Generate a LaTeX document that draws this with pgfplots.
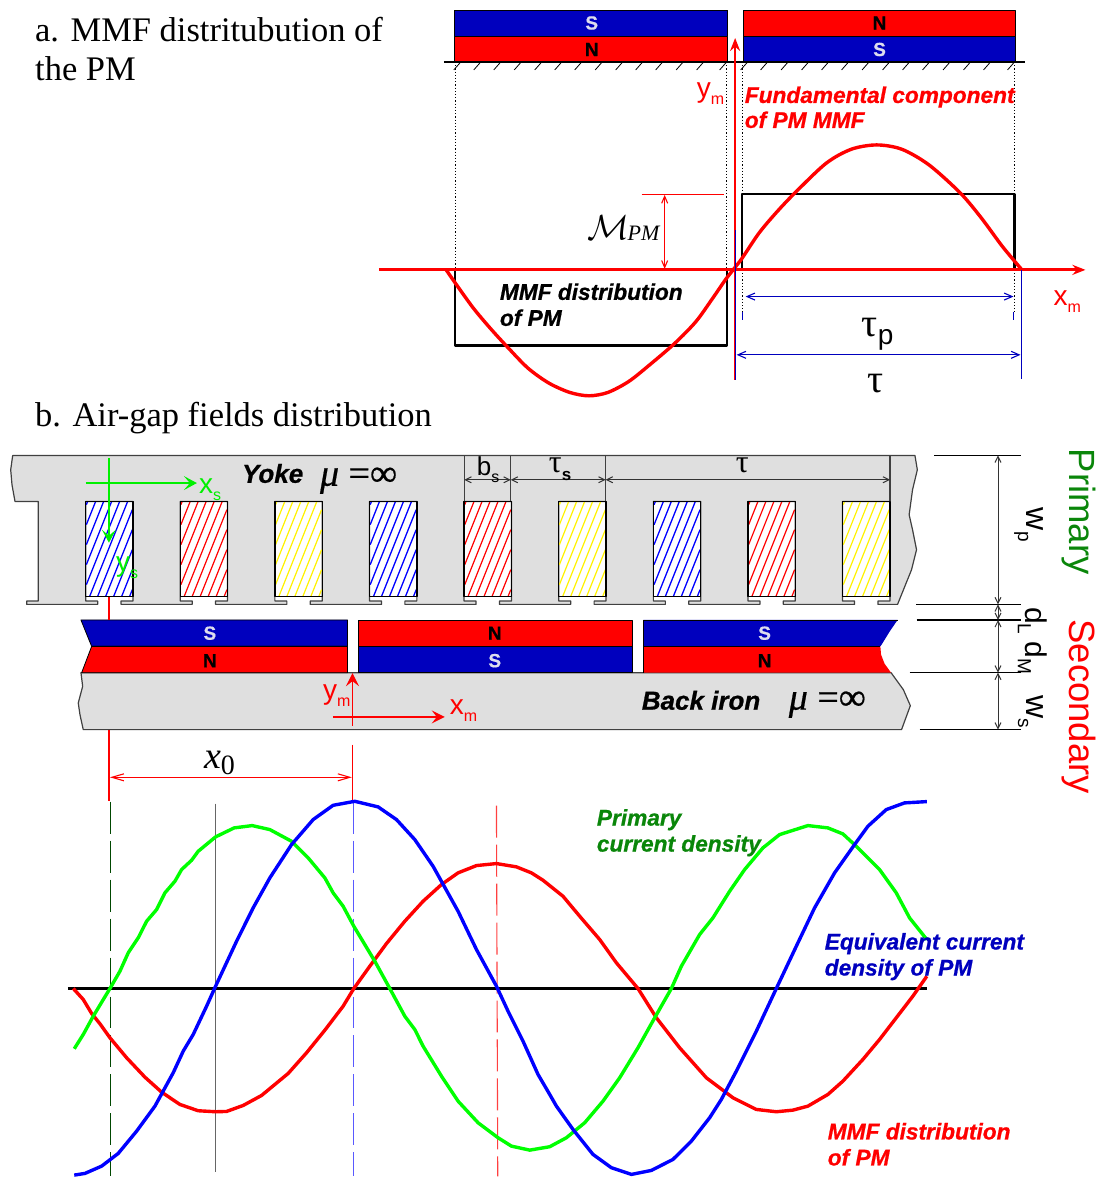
\documentclass[border=0pt]{standalone}
\usepackage{fontspec}
\usepackage{pgfplots}
\usepackage{pgfplotstable}
\pgfplotsset{compat=1.18}
\usetikzlibrary{arrows.meta}
\setmainfont{Liberation Serif}
\setsansfont{Liberation Sans}
\definecolor{mblue}{HTML}{0000BE}
\definecolor{mred}{HTML}{FF0000}
\definecolor{iron}{HTML}{DFDFDF}
\definecolor{dgreen}{HTML}{0A860A}
\definecolor{lgreen}{HTML}{00F000}
\definecolor{slab}{HTML}{DDDDEE}
\newcommand{\fs}[1]{\fontsize{#1}{#1}\selectfont}
\newcommand{\lab}[4][]{\node[anchor=base west,inner sep=0pt,#1] at (axis cs:#2,#3) {#4};}
\newcommand{\cen}[4][]{\node[anchor=center,inner sep=0pt,#1] at (axis cs:#2,#3) {#4};}
\newcommand{\bi}{\sffamily\bfseries\itshape\fs{22.7}\addfontfeature{FakeBold=0.8}}
\newcommand{\pole}[4]{\node[anchor=center,inner sep=0pt,text=#4] at (axis cs:#1,#2) {\sffamily\bfseries\fs{19}\addfontfeature{FakeBold=0.6}#3};}
\newcommand{\sm}[3]{{\sffamily\fs{#1}#2\raisebox{-0.25em}{\fs{16}#3}}}
\newcommand{\smb}[3]{{\sffamily\fs{#1}#2\raisebox{-0.25em}{\fs{19}#3}}}
% hatch segments of one coil: start x (from the slot's left edge), start y, and run
\pgfplotstableread{
x y u v
0.7 504.95 1.3 -3.25
0.7 524.95 9.3 -23.25
0.7 544.95 17.3 -43.25
0.7 564.95 25.3 -63.25
0.7 584.95 33.3 -83.25
4 596.7 38 -95
12 596.7 34.7 -86.75
20 596.7 26.7 -66.75
28 596.7 18.7 -46.75
36 596.7 10.7 -26.75
44 596.7 2.7 -6.75
}\hatch
\newcommand{\coil}[3]{%
 \addplot[#2,line width=#3,quiver={u=\thisrow{u},v=\thisrow{v}}] table[x expr=\thisrow{x}+#1,y=y] {\hatch};}
\begin{document}
\begin{tikzpicture}
\begin{axis}[scale only axis,width=1100pt,height=1177pt,xmin=0,xmax=1100,ymin=0,ymax=1177,
  y dir=reverse,hide axis,clip=false,
  every axis plot/.append style={line join=round}]
% --- frame corners
\addplot[draw=none] coordinates {(0,0)(1100,1177)};
% === panel a: magnets
\addplot[fill=mblue,draw=black,line width=0.8pt] coordinates {(455,10)(728,10)(728,36.5)(455,36.5)} -- cycle;
\addplot[fill=mred,draw=black,line width=0.8pt] coordinates {(455,36.5)(728,36.5)(728,62)(455,62)} -- cycle;
\addplot[fill=mred,draw=black,line width=0.8pt] coordinates {(744,10)(1016,10)(1016,36)(744,36)} -- cycle;
\addplot[fill=mblue,draw=black,line width=0.8pt] coordinates {(744,36)(1016,36)(1016,62)(744,62)} -- cycle;
\addplot[black,line width=1.4pt] coordinates {(444,62)(1026,62)};
\addplot[black,line width=0.8pt,quiver={u=-7,v=8}] coordinates {(461,62)(481,62)(501,62)(521.5,62)(542,62)(562,62)(582,62)(602.5,62)(623,62)(643,62)(663,62)(683.5,62)(704,62)(727,62)(748,62)(768,62)(788.5,62)(809,62)(829,62)(849,62)(869.5,62)(890,62)(910,62)(930,62)(950.5,62)(971,62)(991,62)(1015,62)};
% dotted guides
\addplot[black,dotted,line width=1.2pt] coordinates {(455.5,62)(455.5,270)};
\addplot[black,dotted,line width=1.2pt] coordinates {(727,62)(727,270)};
\addplot[black,dotted,line width=1.2pt] coordinates {(743,62)(743,312)};
\addplot[black,dotted,line width=1.2pt] coordinates {(1015,62)(1015,312)};
\addplot[mblue,line width=1pt] coordinates {(743,312)(743,320)};
\addplot[mblue,line width=1pt] coordinates {(1014,312)(1014,320)};
% rect wave
\addplot[black,line width=2.2pt] coordinates {(455,270)(455,345.7)(727,345.7)(727,270)(742.5,270)(742.5,194.3)(1015,194.3)(1015,270)};
% M_PM
\addplot[mred,line width=1.1pt] coordinates {(642,194.3)(724,194.3)};
\addplot[mred,line width=1.1pt,{Straight Barb[length=7pt,width=6pt]}-{Straight Barb[length=7pt,width=6pt]}] coordinates {(665,195)(665,269)};
% sine a
\addplot[mred,line width=3.4pt,smooth,tension=0.5] coordinates {(445.9,269.3)(456.8,285)(473.6,308.3)(490.4,328.3)(507.2,346.7)(528.2,368.3)(549.2,383.3)(570.3,392.7)(589.2,396)(608,392.7)(629,381.7)(650,365)(675.3,343.3)(696.3,321.7)(713.1,298.3)(725.7,280)(734,269.3)(742.5,258.3)(759.3,233.3)(776.1,213.3)(795,193.3)(826.6,163.3)(851.8,149.3)(877,145)(902.2,149.3)(929.5,165)(961,193.3)(982,218.3)(1003,246.7)(1021.9,269.3)};
% axes a
\addplot[mred,line width=3pt,-{Stealth[length=13pt,width=10pt]}] coordinates {(379,270)(1086,270)};
\addplot[mred,line width=2.6pt,-{Stealth[length=13pt,width=10pt]}] coordinates {(735.5,380)(735.5,38)};
\addplot[mblue,line width=1.2pt] coordinates {(735.5,230)(735.5,380)};
% tau dims
\addplot[mblue,line width=1.1pt,{Straight Barb[length=8pt,width=7pt]}-{Straight Barb[length=8pt,width=7pt]}] coordinates {(746,296.7)(1014,296.7)};
\addplot[mblue,line width=1.1pt,{Straight Barb[length=8pt,width=7pt]}-{Straight Barb[length=8pt,width=7pt]}] coordinates {(737,355)(1021,355)};
\addplot[mblue,line width=1.1pt] coordinates {(1022,270)(1022,379)};
% === panel b: yoke
\addplot[fill=iron,draw=black!75,line width=1.2pt] coordinates {(12.7,455.7)(915.4,455.7)(917.8,470)(913,490)(909.6,515)(913,530)(917,550)(912,570)(898,604.7)
 (878.4,604.7)(878.4,601.3)(890.4,601.3)(890.4,501.7)(843,501.7)(843,601.3)(855,601.3)(855,604.7)
 (783.7,604.7)(783.7,601.3)(795.7,601.3)(795.7,501.7)(748.3,501.7)(748.3,601.3)(760.3,601.3)(760.3,604.7)
 (689.1,604.7)(689.1,601.3)(701.1,601.3)(701.1,501.7)(653.7,501.7)(653.7,601.3)(665.7,601.3)(665.7,604.7)
 (594.4,604.7)(594.4,601.3)(606.4,601.3)(606.4,501.7)(559,501.7)(559,601.3)(571,601.3)(571,604.7)
 (499.7,604.7)(499.7,601.3)(511.7,601.3)(511.7,501.7)(464.3,501.7)(464.3,601.3)(476.3,601.3)(476.3,604.7)
 (405.1,604.7)(405.1,601.3)(417.1,601.3)(417.1,501.7)(369.7,501.7)(369.7,601.3)(381.7,601.3)(381.7,604.7)
 (310.4,604.7)(310.4,601.3)(322.4,601.3)(322.4,501.7)(275,501.7)(275,601.3)(287,601.3)(287,604.7)
 (215.7,604.7)(215.7,601.3)(227.7,601.3)(227.7,501.7)(180.3,501.7)(180.3,601.3)(192.3,601.3)(192.3,604.7)
 (121.1,604.7)(121.1,601.3)(133.1,601.3)(133.1,501.7)(85.7,501.7)(85.7,601.3)(97.7,601.3)(97.7,604.7)
 (26.7,604.7)(26.7,601.3)(38.3,601.3)(38.3,501.7)(15,501.7)(12,485)(10.7,470)} -- cycle;
% coils
\coil{85.7}{blue}{1.3pt}
\coil{180.3}{red}{1.2pt}
\coil{275}{yellow}{1.2pt}
\coil{369.7}{blue}{1.3pt}
\coil{464.3}{red}{1.2pt}
\coil{559}{yellow}{1.2pt}
\coil{653.7}{blue}{1.3pt}
\coil{748.3}{red}{1.2pt}
\coil{843}{yellow}{1.2pt}
\addplot[black,line width=1.3pt] coordinates {(85.7,501.7)(133.1,501.7)(133.1,596.7)(85.7,596.7)} -- cycle;
\addplot[black,line width=1.3pt] coordinates {(180.3,501.7)(227.7,501.7)(227.7,596.7)(180.3,596.7)} -- cycle;
\addplot[black,line width=1.3pt] coordinates {(275,501.7)(322.4,501.7)(322.4,596.7)(275,596.7)} -- cycle;
\addplot[black,line width=1.3pt] coordinates {(369.7,501.7)(417.1,501.7)(417.1,596.7)(369.7,596.7)} -- cycle;
\addplot[black,line width=1.3pt] coordinates {(464.3,501.7)(511.7,501.7)(511.7,596.7)(464.3,596.7)} -- cycle;
\addplot[black,line width=1.3pt] coordinates {(559,501.7)(606.4,501.7)(606.4,596.7)(559,596.7)} -- cycle;
\addplot[black,line width=1.3pt] coordinates {(653.7,501.7)(701.1,501.7)(701.1,596.7)(653.7,596.7)} -- cycle;
\addplot[black,line width=1.3pt] coordinates {(748.3,501.7)(795.7,501.7)(795.7,596.7)(748.3,596.7)} -- cycle;
\addplot[black,line width=1.3pt] coordinates {(843,501.7)(890.4,501.7)(890.4,596.7)(843,596.7)} -- cycle;
% pitch dims
\addplot[black!75,line width=1.2pt] coordinates {(464.5,455.7)(464.5,501.7)};
\addplot[black!75,line width=1.2pt] coordinates {(511,455.7)(511,501.7)};
\addplot[black!75,line width=1.2pt] coordinates {(606,455.7)(606,501.7)};
\addplot[black!75,line width=1.2pt] coordinates {(890.5,455.7)(890.5,501.7)};
\addplot[black!80,line width=1pt,{Straight Barb[length=6pt,width=6pt]}-{Straight Barb[length=6pt,width=6pt]}] coordinates {(464.5,480)(511,480)};
\addplot[black!80,line width=1pt,{Straight Barb[length=6pt,width=6pt]}-{Straight Barb[length=6pt,width=6pt]}] coordinates {(511,480)(606,480)};
\addplot[black!80,line width=1pt,{Straight Barb[length=6pt,width=6pt]}-{Straight Barb[length=6pt,width=6pt]}] coordinates {(606,480)(890.5,480)};
% green axes
\addplot[lgreen,line width=1.5pt,-{Stealth[length=13pt,width=14pt,inset=6pt]}] coordinates {(85.7,483.3)(197,483.3)};
\addplot[lgreen,line width=1.5pt,-{Stealth[length=13pt,width=14pt,inset=6pt]}] coordinates {(109,458)(109,543)};
% back iron
\addplot[fill=iron,draw=black!75,line width=1.2pt] coordinates {(81,673)(891.5,673)(903.8,690)(910.8,706)(902,730)(83.3,730)(80,715)(78.3,703.3)(82.7,686.7)} -- cycle;
% magnets b
\addplot[fill=mblue,draw=black,line width=0.8pt] coordinates {(81,620.3)(347.7,620.3)(347.7,646.7)(91.7,646.7)} -- cycle;
\addplot[fill=mred,draw=black,line width=0.8pt] coordinates {(91.7,646.7)(347.7,646.7)(347.7,673)(81.7,673)} -- cycle;
\addplot[fill=mred,draw=black,line width=0.8pt] coordinates {(358.3,620.3)(632.3,620.3)(632.3,646.7)(358.3,646.7)} -- cycle;
\addplot[fill=mblue,draw=black,line width=0.8pt] coordinates {(358.3,646.7)(632.3,646.7)(632.3,673)(358.3,673)} -- cycle;
\addplot[fill=mblue,draw=none] coordinates {(643.8,620.3)(898,620.3)(890,632)(882,645)(880.8,646.7)(643.8,646.7)} -- cycle;
\addplot[fill=mred,draw=none] coordinates {(643.8,646.7)(880.8,646.7)(881.5,655)(885,664)(891.5,673)(643.8,673)} -- cycle;
\addplot[black,line width=0.8pt] coordinates {(643.8,646.7)(880.8,646.7)};
\addplot[black,line width=0.8pt] coordinates {(643.8,673)(643.8,620.3)(898,620.3)};
% right-hand dims
\addplot[black,line width=1.1pt] coordinates {(934.6,455.7)(1022,455.7)};
\addplot[black,line width=1.1pt] coordinates {(916.5,604.7)(1022,604.7)};
\addplot[black,line width=1.1pt] coordinates {(917,620.3)(1022,620.3)};
\addplot[black,line width=1.1pt] coordinates {(910,673)(1022,673)};
\addplot[black,line width=1.1pt] coordinates {(920,730)(1022,730)};
\addplot[black!80,line width=1pt,{Straight Barb[length=6pt,width=6pt]}-{Straight Barb[length=6pt,width=6pt]}] coordinates {(998.5,455.7)(998.5,604.7)};
\addplot[black!80,line width=1pt,{Straight Barb[length=6pt,width=6pt]}-{Straight Barb[length=6pt,width=6pt]}] coordinates {(998.5,604.7)(998.5,620.3)};
\addplot[black!80,line width=1pt,{Straight Barb[length=6pt,width=6pt]}-{Straight Barb[length=6pt,width=6pt]}] coordinates {(998.5,620.3)(998.5,673)};
\addplot[black!80,line width=1pt,{Straight Barb[length=6pt,width=6pt]}-{Straight Barb[length=6pt,width=6pt]}] coordinates {(998.5,673)(998.5,730)};
% red refs
\addplot[mred,line width=1.3pt] coordinates {(109,597)(109,620)};
\addplot[mred,line width=1.3pt] coordinates {(109,730)(109,801.5)};
\addplot[mred,line width=1.3pt] coordinates {(352.7,745)(352.7,801)};
\addplot[mred,line width=1.1pt,{Straight Barb[length=12pt,width=7pt]}-{Straight Barb[length=12pt,width=7pt]}] coordinates {(110,777.7)(352,777.7)};
\addplot[mred,line width=1.5pt,-{Stealth[length=13pt,width=13pt,inset=5pt]}] coordinates {(352.7,726)(352.7,673.5)};
\addplot[mred,line width=1.5pt,-{Stealth[length=13pt,width=13pt,inset=5pt]}] coordinates {(333,717.3)(445,717.3)};
% guide lines
\addplot[black!60!green!70!black,line width=1.1pt,dash pattern=on 32pt off 7pt] coordinates {(110.3,802)(110.3,1177)};
\addplot[black!60,line width=1.3pt] coordinates {(215.7,804)(215.7,1173)};
\addplot[blue!65,line width=1.2pt,dash pattern=on 32pt off 7pt] coordinates {(354,802)(354,1177)};
\addplot[red!75,line width=1.1pt,dash pattern=on 32pt off 7pt] coordinates {(496.7,806)(498,1177)};
% baseline
\addplot[black,line width=3.4pt] coordinates {(68,989)(927,989)};
% curves
\addplot[mred,line width=3.4pt] coordinates {(73.3,989)(83.3,1000)(91.7,1014)(100,1024.3)(110,1038.3)(126.7,1058.3)(145,1077.7)(161.7,1092.7)(180,1105)(198.3,1111.3)(215.7,1112.3)(226.7,1112)(243.3,1106)(261.7,1096)(288.3,1074)(306.7,1053.3)(325,1030.7)(343.3,1006.7)(354,989)(370,966.7)(386.7,944)(405,921.7)(423.3,901.7)(441.7,885)(458.3,873.3)(476.7,866)(496.7,864)(516.7,867.3)(531.7,873.3)(543.3,880.7)(563.3,896.7)(580,916.7)(600,940)(616.7,963.3)(638.3,989)(656.7,1018.3)(680,1048.3)(706.7,1078.3)(733.3,1098.3)(756.7,1110)(776.7,1112.3)(793.3,1110.7)(808.3,1106.7)(828.3,1095)(843.3,1081.7)(863.3,1060)(880,1040)(896.7,1018.3)(913.3,996.7)(927.3,976.7)};
\addplot[green,line width=3.4pt] coordinates {(74.3,1049.3)(83.3,1035)(93.3,1016.7)(110,989)(120,971.7)(128.3,953.3)(138.3,938.3)(146.7,921.7)(156.7,910)(165,893.3)(175,881.7)(181.7,870)(191.7,860.7)(198.3,851.7)(215.7,837.3)(234.3,828.3)(252.3,826)(270,830)(291.7,841.7)(308.3,858.3)(325,878.3)(333.3,893.3)(343.3,906.7)(354,926.7)(375,961.7)(390,989)(405,1016.7)(415,1030)(423.3,1046.7)(441.7,1076.7)(458.3,1101.7)(478.3,1123.3)(498.3,1138.3)(511.7,1146.7)(530,1150.7)(550,1147.3)(566.7,1138.3)(585,1123.3)(603.3,1101.7)(620,1078.3)(638.3,1048.3)(655,1018.3)(671.7,989)(681.7,966.7)(700,935)(713.3,918.3)(730,891.7)(745,870)(763.3,848.3)(780,835)(808.3,826)(828.3,828.3)(843.3,834.3)(856.7,846.7)(880,870)(896.7,893.3)(910,918.3)(927.3,940)};
\addplot[blue,line width=3.4pt] coordinates {(74.3,1175.7)(85,1174)(101.7,1166.7)(118.3,1154)(136.7,1131.7)(155,1106.7)(173.3,1073.3)(183.3,1051.7)(193.3,1035)(206.7,1006.7)(215.7,986.7)(236.7,941.7)(253.3,908.3)(270,878.3)(291.7,845)(313.3,820)(333.3,805.7)(355,801.7)(378.3,807.3)(396.7,820)(415,840)(433.3,866.7)(458.3,911.7)(476.7,950)(496.7,986.7)(508.3,1011.7)(523.3,1041.7)(538.3,1075)(550,1095)(556.7,1106.7)(573.3,1130)(593.3,1155)(611.7,1168.3)(631.7,1175)(651.7,1171)(673.3,1160)(691.7,1141.7)(710,1118.3)(721.7,1100)(736.7,1071.7)(756.7,1031.7)(776.7,989)(796.7,946.7)(815,908.3)(835,873.3)(855,845)(868.3,826.7)(886.7,810)(905,803.3)(927.3,802)};
% === text
\lab{35}{41.5}{\fs{34.5}a. MMF distritubution of}
\lab{35}{80.5}{\fs{34.5}the PM}
\lab{35}{427}{\fs{34.5}b. Air-gap fields distribution}
\pole{592}{23}{S}{slab}\pole{592}{49.5}{N}{black}\pole{880}{23}{N}{black}\pole{880}{49.5}{S}{slab}
\pole{210}{633.5}{S}{slab}\pole{210}{661}{N}{black}\pole{495}{633.5}{N}{black}\pole{495}{661}{S}{slab}\pole{765}{633.5}{S}{slab}\pole{765}{661}{N}{black}
\lab[text=mred]{745}{103}{\bi Fundamental component}
\lab[text=mred]{745}{128}{\bi of PM MMF}
\lab{500}{300}{\bi MMF distribution}
\lab{500}{326}{\bi of PM}
\lab[text=mred]{697}{98}{\sm{28}{y}{m}}
\lab[text=mred]{1054}{306}{\sm{28}{x}{m}}
\lab{588}{240}{\scalebox{1.4}{\fs{24}$\mathcal{M}$}\kern-2pt\raisebox{-1pt}{\fs{22}\itshape PM}}
\lab{862}{337}{\fs{40}τ\raisebox{-0.2em}{\sffamily\fs{28}p}}
\lab{868}{393}{\fs{40}τ}
\lab{242}{483}{\sffamily\bfseries\itshape\fs{26}\addfontfeature{FakeBold=0.8}Yoke}
\lab{320}{486}{\fs{38}\addfontfeature{FakeBold=0.5}\itshape μ\upshape\ =∞}
\lab{642}{710}{\sffamily\bfseries\itshape\fs{26}\addfontfeature{FakeBold=0.8}Back iron}
\lab{789}{710}{\fs{38}\addfontfeature{FakeBold=0.5}\itshape μ\upshape\ =∞}
\lab{477}{476}{\sm{26}{b}{s}}
\lab{549}{473}{\fs{32}τ\raisebox{-0.25em}{\sffamily\bfseries\fs{17}s}}
\lab{736}{473}{\fs{32}τ}
\lab[text=lgreen]{199}{494}{\sm{28}{x}{s}}
\lab[text=lgreen]{116}{572}{\sm{28}{y}{s}}
\lab[text=mred]{323}{700}{\sm{28}{y}{m}}
\lab[text=mred]{450}{715}{\sm{28}{x}{m}}
\lab{204}{769}{\fs{38}\itshape x\raisebox{-0.15em}{\upshape\fs{28}0}}
\cen[rotate=-90,text=dgreen]{1079}{512}{\sffamily\fs{36.5}Primary}
\cen[rotate=-90,text=mred]{1079}{707}{\sffamily\fs{36.5}Secondary}
\cen[rotate=-90]{1029}{525}{\smb{32}{w}{p}}
\cen[rotate=-90]{1033}{621}{\smb{30}{d}{L}}
\cen[rotate=-90]{1033}{658}{\smb{30}{d}{M}}
\cen[rotate=-90]{1031}{712}{\smb{32}{w}{s}}
\lab[text=dgreen]{597}{826}{\bi Primary}
\lab[text=dgreen]{597}{852}{\bi current density}
\lab[text=mblue]{825}{950}{\bi Equivalent current}
\lab[text=mblue]{825}{976}{\bi density of PM}
\lab[text=mred]{828}{1140}{\bi MMF distribution}
\lab[text=mred]{828}{1166}{\bi of PM}
\end{axis}
\end{tikzpicture}
\end{document}
